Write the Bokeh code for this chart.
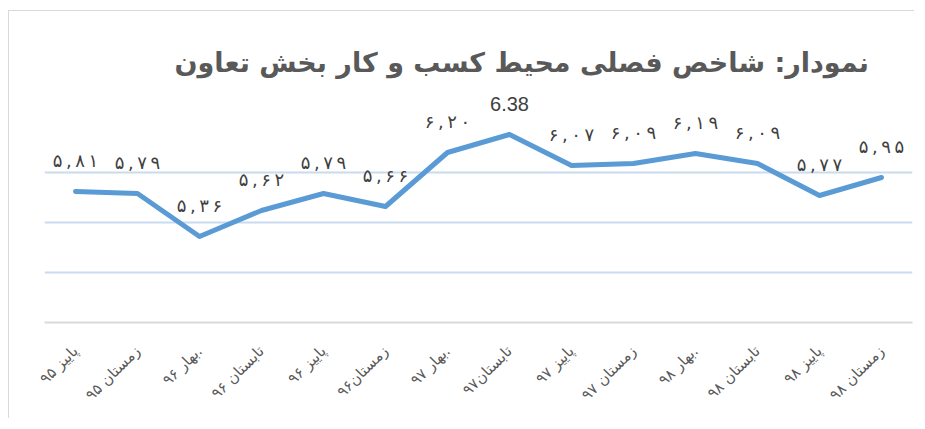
import math
from bokeh.plotting import figure
from bokeh.models import Range1d, FixedTicker, Label
from bokeh.core.properties import value
from bokeh.embed import file_html
from bokeh.resources import INLINE

# ---- data ----
title_text = "نمودار:  شاخص فصلی محیط کسب و کار بخش تعاون"
seasons = ["پاییز ۹۵", "زمستان ۹۵", "بهار ۹۶.", "تابستان ۹۶", "پاییز ۹۶", "زمستان۹۶",
           "بهار ۹۷.", "تابستان۹۷", "پاییز ۹۷", "زمستان ۹۷", "بهار ۹۸.", "تابستان ۹۸",
           "پاییز ۹۸", "زمستان ۹۸"]
values = [5.81, 5.79, 5.36, 5.62, 5.79, 5.66, 6.20, 6.38, 6.07, 6.09, 6.19, 6.09, 5.77, 5.95]
latin_label_index = [7]
grid_ticks = [5.0, 5.5, 6.0]
y_start, y_end = 4.5, 7.59

FA = str.maketrans("0123456789.", "۰۱۲۳۴۵۶۷۸۹,")

def fa_label(v):
    s = f"{v:.2f}".translate(FA)
    return "\u2009".join(s)

xs = list(range(len(values)))
fa_x, fa_y, fa_t = [], [], []
la_x, la_y, la_t = [], [], []
for i, v in enumerate(values):
    if i in latin_label_index:
        la_x.append(i); la_y.append(v); la_t.append(f"{v:.2f}")
    else:
        fa_x.append(i); fa_y.append(v); fa_t.append(fa_label(v))

W, H = 906, 408
p = figure(width=W, height=H, output_backend="svg", toolbar_location=None,
           x_range=Range1d(-0.5, len(values) - 0.5), y_range=Range1d(y_start, y_end),
           min_border_left=35, min_border_right=3, min_border_top=2, min_border_bottom=97)
p.styles = {"border-top": "1px solid #d9d9d9", "border-left": "1px solid #d9d9d9",
            "margin-top": "10px", "margin-left": "8px"}
p.outline_line_color = None
p.background_fill_color = "white"
p.border_fill_color = "white"

p.yaxis.visible = False
p.ygrid.ticker = FixedTicker(ticks=grid_ticks)
p.ygrid.grid_line_color = "#c9dcef"
p.ygrid.grid_line_width = 2
p.xgrid.grid_line_color = None

xa = p.xaxis[0]
xa.ticker = FixedTicker(ticks=xs)
xa.major_label_overrides = {i: s for i, s in enumerate(seasons)}
xa.major_label_orientation = math.pi / 4
xa.major_tick_line_color = None
xa.minor_tick_line_color = None
xa.axis_line_color = "#d9d9d9"
xa.axis_line_width = 2
xa.major_label_text_font = "DejaVu Sans"
xa.major_label_text_font_size = "15px"
xa.major_label_text_color = "#595959"
xa.major_label_standoff = 20

p.line(xs, values, line_color="#5b9bd5", line_width=5, line_cap="round", line_join="round")

p.text(x=fa_x, y=fa_y, text=fa_t, text_align="center", text_baseline="middle", y_offset=-31,
       text_font=value("DejaVu Sans"), text_font_size="18px", text_color="#404040")
p.text(x=la_x, y=la_y, text=la_t, text_align="center", text_baseline="middle", y_offset=-31,
       text_font=value("Liberation Sans"), text_font_size="20px", text_color="#404040")

title = Label(x=12.95, y=7.10, text=title_text, text_align="right", text_baseline="middle",
              text_font="DejaVu Sans", text_font_style="bold", text_font_size="27px",
              text_color="#595959")
p.add_layout(title)

open("out.html", "w").write(file_html(p, INLINE))
